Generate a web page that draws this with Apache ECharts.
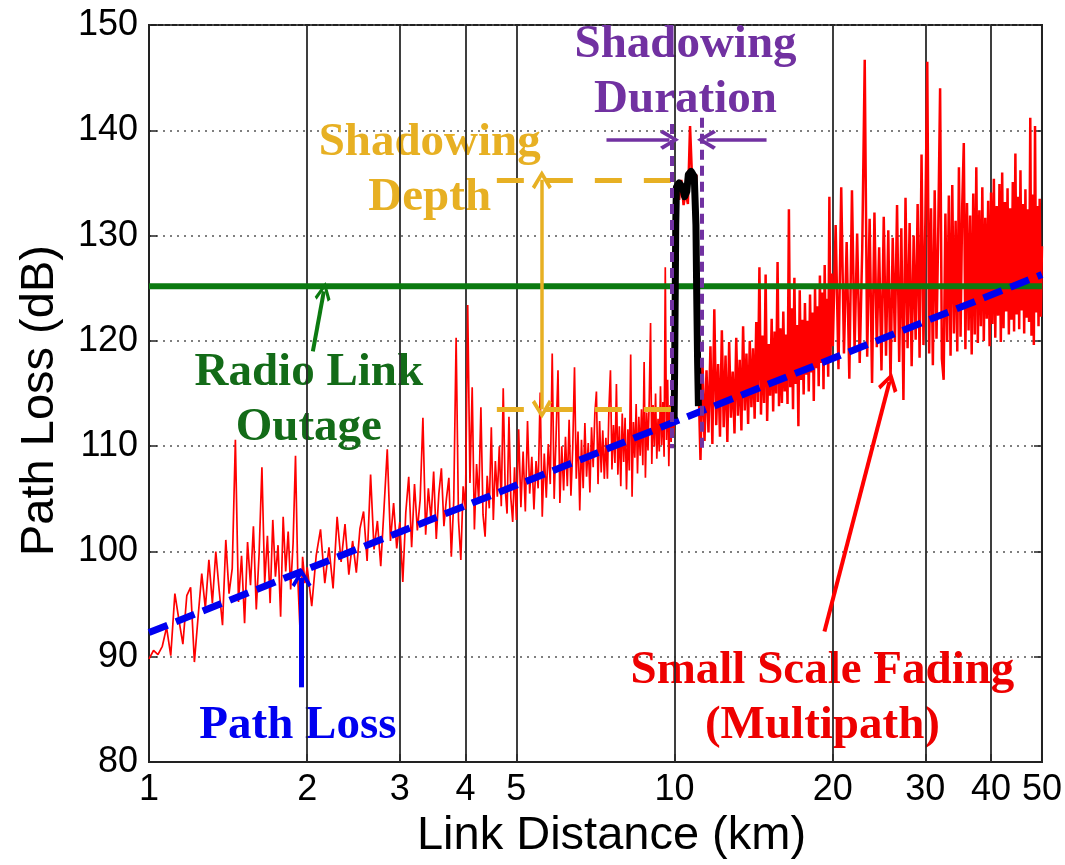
<!DOCTYPE html>
<html>
<head>
<meta charset="utf-8">
<script src="https://cdn.jsdelivr.net/npm/echarts@6/dist/echarts.min.js"></script>
<style>
  html, body { margin: 0; padding: 0; background: #fff; }
  #chart { width: 1065px; height: 865px; }
</style>
</head>
<body>
<div id="chart"></div>
<script>
// Axis ticks
const xTickKm = [1, 2, 3, 4, 5, 10, 20, 30, 40, 50];
const xGridKm = [2, 3, 4, 5, 10, 20, 30, 40];

// Received path loss with small scale fading, sampled on a distance grid per stretch
const fadeStartKm = [1, 2, 5, 10, 20];
const fadeStepKm = [0.02, 0.04, 0.05, 0.1, 0.25];

const fadeA = [
  89.8, 90.6, 90.2, 91.0, 92.8, 90.1, 96.0, 93.5, 91.2, 95.8,
  96.6, 89.5, 93.8, 97.9, 94.6, 99.2, 95.1, 100.0, 96.3, 93.0,
  101.1, 96.0, 98.4, 110.6, 95.2, 99.6, 93.2, 100.9, 96.8, 102.4,
  94.5, 99.8, 108.0, 97.0, 101.5, 95.1, 103.0, 97.6, 100.6, 93.8,
  103.3, 98.1, 101.9, 96.4, 100.8, 109.1, 97.2, 92.0, 99.5, 97.0
];
const fadeB = [
  98.5, 94.8, 99.6, 102.1, 97.0, 100.4, 96.5, 103.3, 99.0, 102.6,
  97.8, 101.0, 98.0, 102.2, 103.8, 99.1, 107.3, 100.2, 102.9, 98.6,
  104.1, 109.7, 101.0, 104.6, 100.3, 102.8, 97.1, 103.7, 107.1, 100.4,
  106.4, 102.0, 104.9, 112.7, 101.6, 106.0, 103.0, 107.6, 101.2, 105.5,
  107.9, 102.4, 105.0, 107.0, 99.5, 104.8, 120.3, 103.0, 99.2, 106.2,
  104.0, 123.4, 106.5, 115.6, 102.1, 108.3, 104.7, 113.7, 103.5, 101.4,
  107.2, 104.1, 111.8, 103.0, 108.6, 105.2, 110.0, 104.3, 115.5, 106.0,
  103.6, 112.8, 105.1, 102.8, 108.0
];
const fadeC = [
  103.0, 111.6, 104.2, 109.5, 103.8, 112.4, 105.5, 109.0, 104.0, 108.6,
  106.0, 115.1, 103.3, 109.3, 105.1, 110.2, 106.4, 118.8, 105.0, 111.0,
  117.2, 104.6, 110.0, 105.8, 110.9, 106.2, 112.5, 105.3, 109.8, 117.5,
  106.9, 111.4, 103.9, 110.6, 106.0, 112.2, 107.1, 110.3, 105.6, 111.8,
  108.0, 113.0, 115.2, 106.4, 112.4, 107.5, 111.5, 106.9, 110.8, 106.9,
  113.6, 117.2, 107.8, 112.0, 108.4, 115.9, 107.3, 111.9, 106.2, 113.1,
  108.5, 112.7, 105.9, 111.6, 107.7, 118.7, 105.2, 112.3, 108.9, 114.0,
  107.4, 112.8, 109.1, 113.5, 108.2, 118.0, 107.0, 113.2, 109.6, 114.6,
  121.7, 108.3, 113.9, 110.0, 115.0, 108.8, 112.6, 109.5, 115.7, 110.1,
  114.2, 109.0, 127.0, 110.6, 116.3, 108.1, 113.9, 110.4, 115.0, 111.0
];
const fadeD = [
  113.0, 134.5, 133.4, 135.3, 132.9, 134.1, 133.0, 140.4, 135.2, 134.4,
  135.8, 116.5, 108.7, 118.0, 110.5, 117.2, 111.3, 119.5, 110.2, 123.0,
  112.0, 117.8, 110.9, 121.0, 111.8, 118.6, 110.4, 119.9, 112.7, 117.1,
  111.2, 120.3, 112.9, 118.2, 111.5, 121.4, 113.4, 118.8, 112.1, 120.0,
  113.7, 119.3, 112.6, 121.8, 114.2, 127.0, 113.0, 120.5, 114.1, 126.3,
  112.4, 119.7, 114.8, 122.1, 113.3, 120.9, 115.0, 127.5, 113.8, 121.2,
  114.1, 122.8, 115.2, 120.6, 114.0, 132.5, 115.6, 123.1, 113.5, 126.0,
  115.9, 121.5, 111.9, 124.8, 116.3, 122.0, 114.9, 123.6, 116.8, 121.9,
  115.2, 124.4, 117.0, 122.7, 114.3, 125.0, 117.4, 123.3, 115.7, 126.2,
  117.9, 124.6, 115.4, 127.2, 118.1, 124.0, 116.6, 133.7, 118.5, 126.4
];
const fadeE = [
  119.5, 131.0, 117.3, 134.6, 118.8, 129.4, 116.4, 134.3, 119.1, 130.2,
  117.9, 128.7, 146.7, 118.5, 131.6, 116.0, 132.2, 119.4, 128.9, 117.2,
  131.8, 118.6, 130.5, 116.0, 129.8, 119.9, 132.9, 118.0, 130.7, 114.4,
  133.6, 119.3, 131.2, 117.6, 130.0, 120.1, 133.0, 118.4, 137.7, 119.6,
  131.5, 146.5, 118.8, 132.6, 117.7, 134.3, 120.2, 130.9, 144.0, 118.3,
  116.3, 132.1, 119.9, 133.8, 118.6, 134.8, 120.7, 131.4, 119.0, 136.5,
  120.4, 132.7, 138.8, 119.2, 133.1, 121.0, 131.9, 118.7, 134.0, 120.6,
  136.5, 119.8, 132.4, 121.4, 134.6, 120.0, 131.7, 122.1, 133.3, 119.5,
  134.1, 121.6, 135.4, 120.3, 132.8, 122.4, 134.9, 119.9, 136.0, 121.2,
  133.2, 122.8, 134.5, 120.6, 132.6, 122.0, 135.1, 120.9, 137.8, 122.5,
  133.7, 121.1, 136.2, 122.9, 133.0, 120.7, 134.4, 122.2, 132.5, 121.8,
  141.2, 120.5, 133.9, 119.6, 140.4, 122.7, 132.8, 121.4, 133.5, 122.3,
  129.0
];
const fadeSegments = [fadeA, fadeB, fadeC, fadeD, fadeE];

// Mean path loss trend
const pathLossKm = [1, 50];
const pathLossDb = [92.3, 126.3];

// Radio link outage threshold
const outageKm = [1, 50];
const outageDb = 125.2;

// Shadowing event around 10 km
const shadowKm = [9.98, 10.0, 10.03, 10.05, 10.08, 10.2, 10.35, 10.45, 10.55, 10.62, 10.75, 10.9, 10.98, 11.02, 11.06, 11.1];
const shadowDb = [112.6, 117.0, 125.0, 131.0, 134.6, 135.0, 134.6, 133.7, 134.2, 135.8, 136.1, 135.6, 131.0, 124.0, 118.0, 113.8];

// ---- series data ----
// the fading trace is split in two so the densely sampled far range can use a heavier stroke
const fadingNear = [];
const fadingFar = [];
fadeSegments.forEach((vals, s) => {
  vals.forEach((v, i) => {
    const pt = [+(fadeStartKm[s] + i * fadeStepKm[s]).toFixed(3), v];
    if (s < 3) fadingNear.push(pt); else fadingFar.push(pt);
  });
});
fadingNear.push(fadingFar[0]);

const pathLossData = pathLossKm.map((d, i) => [d, pathLossDb[i]]);
const outageData = outageKm.map(d => [d, outageDb]);
const shadowData = shadowKm.map((d, i) => [d, shadowDb[i]]);

const C = {
  red: '#ff0000',
  blue: '#0000f0',
  green: '#0b7a10',
  greenText: '#136b18',
  gold: '#e7b023',
  purple: '#7131a1',
  axis: '#222'
};
const serif = 'Liberation Serif';
const sans = 'Liberation Sans';
// open "V" arrow head, tip at the top of its box
const chevron = 'path://M5,0 L10,8.6 L8.5,10 L5,3.6 L1.5,10 L0,8.6 Z';

function arrow(from, to, color, width, both, size) {
  const s = size || [20, 19];
  return [
    { coord: from, symbol: both ? chevron : 'none', symbolSize: s,
      lineStyle: { color: color, width: width, type: 'solid' } },
    { coord: to, symbol: chevron, symbolSize: s }
  ];
}
function dashed(from, to, color, width, dash) {
  return [
    { coord: from, symbol: 'none', lineStyle: { color: color, width: width, type: dash, cap: 'butt' } },
    { coord: to, symbol: 'none' }
  ];
}
function note(coord, text, color) {
  return { coord: coord, value: 0, label: { formatter: text, color: color } };
}

const chart = echarts.init(document.getElementById('chart'), null, { renderer: 'canvas' });

chart.setOption({
  animation: false,
  backgroundColor: '#fff',
  grid: {
    left: 149, right: 22, top: 25, bottom: 102,
    show: true, borderColor: C.axis, borderWidth: 2, backgroundColor: 'transparent'
  },
  xAxis: {
    type: 'log', logBase: 10, min: 1, max: 50,
    axisLine: { show: true, lineStyle: { color: C.axis, width: 2 } },
    axisTick: { show: true, inside: true, length: 8, customValues: xTickKm, lineStyle: { color: C.axis, width: 1.5 } },
    axisLabel: {
      customValues: xTickKm, fontSize: 36, color: '#000', fontFamily: sans, margin: 10,
      formatter: v => String(Math.round(v))
    },
    splitLine: { show: false },
    minorTick: { show: false },
    name: 'Link Distance (km)', nameLocation: 'middle', nameGap: 50,
    nameTextStyle: { fontSize: 47, color: '#000', fontFamily: sans, padding: [0, 0, 0, 32] }
  },
  yAxis: [{
    type: 'value', min: 80, max: 150, interval: 10,
    axisLine: { show: true, lineStyle: { color: C.axis, width: 2 } },
    axisTick: { show: true, inside: true, length: 8, lineStyle: { color: C.axis, width: 1.5 } },
    axisLabel: { fontSize: 36, color: '#000', fontFamily: sans, margin: 11 },
    splitLine: { show: true, lineStyle: { color: '#555', width: 1.5, type: [2, 5] } },
    name: 'Path Loss (dB)', nameLocation: 'middle', nameGap: 85,
    nameTextStyle: { fontSize: 47, color: '#000', fontFamily: sans, padding: [0, 14, 0, 0] }
  }, {
    type: 'value', min: 80, max: 150, interval: 10, position: 'right',
    axisLine: { show: true, lineStyle: { color: C.axis, width: 2 } },
    axisTick: { show: true, inside: true, length: 8, lineStyle: { color: C.axis, width: 1.5 } },
    axisLabel: { show: false },
    splitLine: { show: false }
  }],
  series: [
    {
      // vertical grid lines at the labelled distances, and the text notes
      type: 'line', data: [], silent: true, z: 1,
      markLine: {
        silent: true, symbol: 'none', z: 1, animation: false,
        label: { show: false },
        lineStyle: { color: '#2a2a2a', width: 1.8, type: 'solid' },
        data: xGridKm.map(d => ({ xAxis: d }))
      },
      markPoint: {
        silent: true, z: 0, symbol: 'rect', symbolSize: 1,
        itemStyle: { color: 'rgba(0,0,0,0)' },
        label: {
          show: true, position: 'inside', fontFamily: serif, fontWeight: 'bold',
          fontSize: 47, lineHeight: 55, align: 'center'
        },
        data: [
          note([10.49, 145.5], 'Shadowing\nDuration', C.purple),
          note([3.42, 136.2], 'Shadowing\nDepth', C.gold),
          note([2.014, 114.4], 'Radio Link\nOutage', C.greenText),
          note([1.92, 83.4], 'Path Loss', C.blue),
          note([19.11, 86.05], 'Small Scale Fading\n(Multipath)', '#ee0000')
        ]
      }
    },
    {
      name: 'Small Scale Fading', type: 'line', data: fadingNear, z: 3,
      showSymbol: false, symbol: 'none', smooth: false,
      lineStyle: { color: C.red, width: 1.7 }
    },
    {
      name: 'Small Scale Fading', type: 'line', data: fadingFar, z: 3,
      showSymbol: false, symbol: 'none', smooth: false,
      lineStyle: { color: C.red, width: 2.5 }
    },
    {
      name: 'Radio Link Outage', type: 'line', data: outageData, z: 4,
      showSymbol: false, symbol: 'none',
      lineStyle: { color: C.green, width: 6 }
    },
    {
      name: 'Path Loss', type: 'line', data: pathLossData, z: 5,
      showSymbol: false, symbol: 'none',
      lineStyle: { color: C.blue, width: 7, type: [20, 9], cap: 'butt' }
    },
    {
      name: 'Shadowing', type: 'line', data: shadowData, z: 6,
      showSymbol: false, symbol: 'none',
      lineStyle: { color: '#000', width: 7, join: 'round' }
    },
    {
      // annotation arrows and markers
      type: 'line', data: [], silent: true, z: 7,
      markLine: {
        silent: true, z: 7, animation: false,
        label: { show: false },
        data: [
          dashed([4.59, 135.3], [9.84, 135.3], C.gold, 5, [27, 22]),
          dashed([4.59, 113.5], [9.84, 113.5], C.gold, 5, [27, 22]),
          arrow([5.59, 113.5], [5.59, 135.3], C.gold, 3.5, true),
          dashed([9.86, 140.6], [9.86, 109.8], C.purple, 4, [10, 6]),
          dashed([11.28, 141.2], [11.28, 109.8], C.purple, 4, [10, 6]),
          arrow([7.42, 139.1], [9.78, 139.1], C.purple, 3.5, false),
          arrow([14.96, 139.1], [11.5, 139.1], C.purple, 3.5, false),
          arrow([2.05, 119.0], [2.151, 124.7], C.green, 4, false, [16, 19]),
          arrow([1.951, 87.1], [1.951, 97.5], C.blue, 5, false),
          arrow([19.28, 92.4], [25.63, 116.1], C.red, 4, false)
        ]
      }
    }
  ]
});
</script>
</body>
</html>
